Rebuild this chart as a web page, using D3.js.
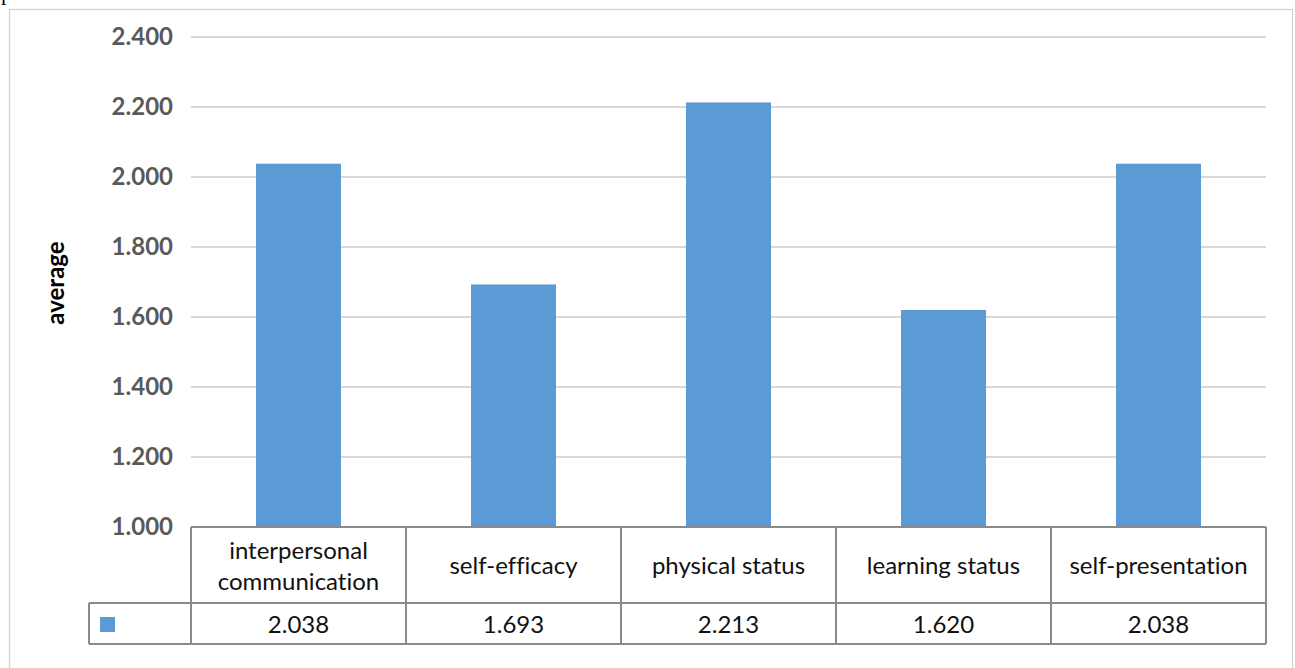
<!DOCTYPE html>
<html>
<head>
<meta charset="utf-8">
<script src="https://cdn.jsdelivr.net/npm/d3@7"></script>
<style>
  body { margin: 0; background: #fff; }
  svg { display: block; }
  text { font-variant-ligatures: none; }
</style>
</head>
<body>
<svg width="1295" height="668"></svg>
<script>
// data
var categories = ["interpersonal communication", "self-efficacy", "physical status", "learning status", "self-presentation"];
var headerLines = [["interpersonal", "communication"], ["self-efficacy"], ["physical status"], ["learning status"], ["self-presentation"]];
var values = [2.038, 1.693, 2.213, 1.620, 2.038];
var yTicks = [1.0, 1.2, 1.4, 1.6, 1.8, 2.0, 2.2, 2.4];

var svg = d3.select("svg");
var font = "Lato, 'Open Sans', sans-serif";

// clipped line of the page text above the chart
svg.append("text")
    .attr("x", 1).attr("y", 0)
    .attr("fill", "#000")
    .style("font-family", "'Liberation Serif', 'Times New Roman', serif")
    .style("font-size", "22px")
    .text("proved.");

// chart frame
svg.append("rect")
    .attr("x", 9.5).attr("y", 9.5)
    .attr("width", 1283).attr("height", 680)
    .attr("fill", "none")
    .attr("stroke", "#d0d0d0")
    .attr("stroke-width", 1.2);

var plotLeft = 191, plotRight = 1266, plotTop = 37, plotBottom = 527;

var x = d3.scaleBand().domain(categories).range([plotLeft, plotRight]).paddingInner(0).paddingOuter(0);
var y = d3.scaleLinear().domain([1.0, 2.4]).range([plotBottom, plotTop]);

// gridlines
svg.append("g")
    .selectAll("line")
    .data(yTicks)
    .enter().append("line")
      .attr("x1", plotLeft).attr("x2", plotRight)
      .attr("y1", function(d) { return y(d); })
      .attr("y2", function(d) { return y(d); })
      .attr("stroke", "#d9d9d9")
      .attr("stroke-width", 2);

// y axis labels
var yAxis = d3.axisLeft(y).tickValues(yTicks).tickFormat(d3.format(".3f")).tickSize(0).tickPadding(18);
var ya = svg.append("g")
    .attr("transform", "translate(" + plotLeft + ",0)")
    .call(yAxis);
ya.select(".domain").remove();
ya.selectAll("text")
    .attr("fill", "#595959")
    .style("font-family", font)
    .style("font-size", "24px")
    .style("font-weight", "bold");

svg.append("text")
    .attr("transform", "translate(64," + ((plotTop + plotBottom) / 2 + 1) + ") rotate(-90)")
    .attr("text-anchor", "middle")
    .style("font-family", font)
    .style("font-size", "24px")
    .style("font-weight", "bold")
    .attr("fill", "#000")
    .text("average");

// bars
var barW = 85;
svg.append("g")
    .selectAll("rect")
    .data(values)
    .enter().append("rect")
      .attr("x", function(d, i) { return x(categories[i]) + (x.bandwidth() - barW) / 2; })
      .attr("y", function(d) { return y(d); })
      .attr("width", barW)
      .attr("height", function(d) { return y(1.0) - y(d); })
      .attr("fill", "#5b9bd5");

// data table
var rowTop = 527, rowMid = 603, rowBot = 644, legendLeft = 89;
var tbl = svg.append("g")
    .attr("fill", "none")
    .attr("stroke", "#8a8a8a")
    .attr("stroke-width", 2);

tbl.append("line").attr("x1", plotLeft).attr("x2", plotRight).attr("y1", rowTop).attr("y2", rowTop);
tbl.append("line").attr("x1", legendLeft).attr("x2", plotRight).attr("y1", rowMid).attr("y2", rowMid);
tbl.append("line").attr("x1", legendLeft).attr("x2", plotRight).attr("y1", rowBot).attr("y2", rowBot);
tbl.append("line").attr("x1", legendLeft).attr("x2", legendLeft).attr("y1", rowMid).attr("y2", rowBot);
tbl.selectAll(".col")
    .data(categories.concat([null]))
    .enter().append("line")
      .attr("x1", function(d) { return d === null ? plotRight : x(d); })
      .attr("x2", function(d) { return d === null ? plotRight : x(d); })
      .attr("y1", rowTop).attr("y2", rowBot);

// header labels
var hdr = svg.append("g")
    .selectAll("text")
    .data(headerLines)
    .enter().append("text")
      .attr("text-anchor", "middle")
      .attr("fill", "#111")
      .style("font-family", font)
      .style("font-size", "24px")
      .attr("x", function(d, i) { return x(categories[i]) + x.bandwidth() / 2; })
      .attr("y", function(d) { return (rowTop + rowMid) / 2 + 9 - (d.length - 1) * 15; });
hdr.selectAll("tspan")
    .data(function(d) { return d; })
    .enter().append("tspan")
      .attr("x", function() { return d3.select(this.parentNode).attr("x"); })
      .attr("dy", function(d, i) { return i === 0 ? 0 : 31; })
      .text(function(d) { return d; });

// value row
svg.append("g")
    .selectAll("text")
    .data(values)
    .enter().append("text")
      .attr("text-anchor", "middle")
      .attr("fill", "#111")
      .style("font-family", font)
      .style("font-size", "24px")
      .attr("x", function(d, i) { return x(categories[i]) + x.bandwidth() / 2; })
      .attr("y", (rowMid + rowBot) / 2 + 9)
      .text(function(d) { return d3.format(".3f")(d); });

// legend key
svg.append("rect")
    .attr("x", 100).attr("y", 617)
    .attr("width", 15).attr("height", 15)
    .attr("fill", "#5b9bd5");
</script>
</body>
</html>
